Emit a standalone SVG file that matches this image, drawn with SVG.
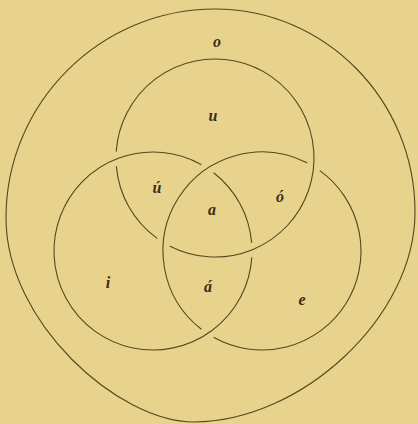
<svg xmlns="http://www.w3.org/2000/svg" width="418" height="424" viewBox="0 0 418 424">
  <style>
    .ln { fill: none; stroke: #5a4520; stroke-width: 1.1; stroke-linecap: round; }
    .lbl { font-family: "Liberation Serif", "DejaVu Serif", serif; font-style: italic; font-weight: bold; font-size: 16px; fill: #3a2c14; text-anchor: middle; }
  </style>
  <rect x="0" y="0" width="418" height="424" fill="#e8d38c"/>
  <g id="connectors">
    <path id="outer" class="ln" d="M215,9 C325,9 415,100 415,212 C415,318 300,422 194,422 C118,422 6,322 6,218 C6,103 100,9 215,9 Z"/>
  </g>
  <g id="circle-top">
    <path class="ln" d="M156.81,238.09 A99,99 0 0 1 116.38,166.63"/>
    <path class="ln" d="M116.24,151.09 A99,99 0 1 1 170.05,246.21"/>
  </g>
  <g id="circle-left">
    <path class="ln" d="M213.95,172.99 A99,99 0 0 1 251.62,242.37"/>
    <path class="ln" d="M251.76,257.91 A99,99 0 1 1 201.0,164.41"/>
  </g>
  <g id="circle-right">
    <path class="ln" d="M320.19,170.91 A99,99 0 0 1 214.0,337.59"/>
    <path class="ln" d="M201.05,329.01 A99,99 0 0 1 306.95,162.79"/>
  </g>
  <g id="labels">
    <text class="lbl" x="217" y="47">o</text>
    <text class="lbl" x="213" y="121">u</text>
    <text class="lbl" x="157" y="193">ú</text>
    <text class="lbl" x="280" y="202">ó</text>
    <text class="lbl" x="212" y="215">a</text>
    <text class="lbl" x="108" y="288">i</text>
    <text class="lbl" x="208" y="292">á</text>
    <text class="lbl" x="302" y="305">e</text>
  </g>
</svg>
